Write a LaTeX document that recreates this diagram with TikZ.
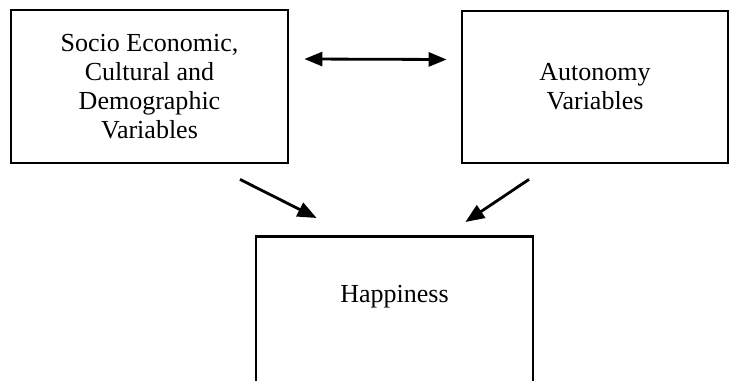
\documentclass[tikz,border=0pt]{standalone}
\usepackage{fontspec}
\setmainfont{Liberation Serif}
\usepackage{tikz}
\usetikzlibrary{arrows.meta, positioning}

\begin{document}
\begin{tikzpicture}[
    x=0.02cm, y=-0.02cm,
    every node/.style={rectangle, draw, line width=1.6pt, align=center,
                       font=\fontsize{14.8pt}{16.5pt}\selectfont},
    link/.style={line width=1.6pt, -{Triangle[length=0.38cm, width=0.3cm]}},
    both/.style={line width=1.6pt, {Triangle[length=0.36cm, width=0.28cm]}-{Triangle[length=0.36cm, width=0.28cm]}}
]
    \useasboundingbox (0,0) rectangle (730,381);
    \clip (0,0) rectangle (730,381);

    \node[minimum width=5.54cm, minimum height=3.06cm] (socio) at (149.5,86.5)
        {Socio Economic,\\Cultural and\\Demographic\\Variables};
    \node[minimum width=5.32cm, minimum height=3.04cm] (autonomy) at (595,87)
        {Autonomy\\Variables};
    % text kept high in the box, box runs off the page
    \node[minimum width=5.54cm, inner sep=0pt, text height=1.32cm, text depth=2.1cm,
          anchor=north] (happy) at (394.5,235) {Happiness};

    \draw[both] ([xshift=0.3cm, yshift=0.55cm]socio.east)
        -- ([xshift=-0.28cm, yshift=0.55cm]autonomy.west);
    \draw[link] ([xshift=1.81cm, yshift=-0.3cm]socio.south)
        -- ([xshift=1.24cm, yshift=0.34cm]happy.north west);
    \draw[link] ([xshift=-1.32cm, yshift=-0.3cm]autonomy.south)
        -- ([xshift=-1.38cm, yshift=0.26cm]happy.north east);
\end{tikzpicture}
\end{document}
